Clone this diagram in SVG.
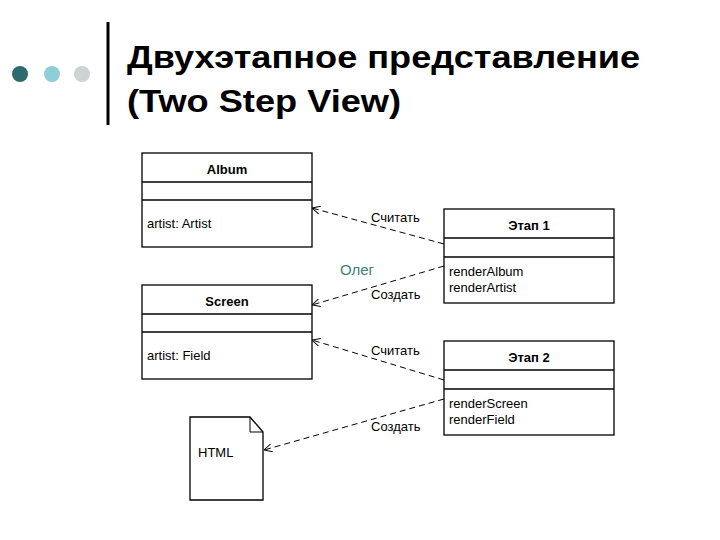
<svg xmlns="http://www.w3.org/2000/svg" width="720" height="540" viewBox="0 0 720 540">
<style>
.box{fill:#fff;stroke:#000;stroke-width:1.3}
.ln{stroke:#000;stroke-width:1.3}
.t{font-family:"Liberation Sans",Arial,sans-serif;font-size:13px;fill:#000}
.b{font-weight:bold;text-anchor:middle}
.c{fill:none;stroke:#000;stroke-width:1;stroke-dasharray:6,4;marker-end:url(#a)}
.title{font-family:"Liberation Sans",Arial,sans-serif;font-size:32px;font-weight:bold;fill:#000}
</style>
<defs>
<marker id="a" viewBox="0 0 10 10" refX="10" refY="5" markerWidth="8" markerHeight="8" orient="auto" markerUnits="userSpaceOnUse">
<path d="M0,0 L10,5 L0,10" fill="none" stroke="#000" stroke-width="1.2"/>
</marker>
</defs>
<rect width="720" height="540" fill="#fff"/>
<g id="header">
<circle cx="20" cy="74" r="8" fill="#2e6b6e"/>
<circle cx="52" cy="74" r="8" fill="#8ecfd6"/>
<circle cx="82" cy="74" r="8" fill="#cfd2d3"/>
<line x1="108" y1="22" x2="108" y2="125" stroke="#000" stroke-width="3"/>
<text class="title" x="127" y="68" textLength="513" lengthAdjust="spacingAndGlyphs">Двухэтапное представление</text>
<text class="title" x="127" y="112" textLength="274" lengthAdjust="spacingAndGlyphs">(Two Step View)</text>
</g>
<g id="album">
<rect class="box" x="142" y="153" width="170" height="94"/>
<line class="ln" x1="142" y1="182" x2="312" y2="182"/>
<line class="ln" x1="142" y1="200" x2="312" y2="200"/>
<text class="t b" x="227" y="174">Album</text>
<text class="t" x="147" y="228">artist: Artist</text>
</g>
<g id="screen">
<rect class="box" x="142" y="285" width="170" height="94"/>
<line class="ln" x1="142" y1="314" x2="312" y2="314"/>
<line class="ln" x1="142" y1="332" x2="312" y2="332"/>
<text class="t b" x="227" y="306">Screen</text>
<text class="t" x="147" y="360">artist: Field</text>
</g>
<g id="stage1">
<rect class="box" x="444" y="209" width="170" height="94"/>
<line class="ln" x1="444" y1="238" x2="614" y2="238"/>
<line class="ln" x1="444" y1="257" x2="614" y2="257"/>
<text class="t b" x="529" y="230">Этап 1</text>
<text class="t" x="449" y="276">renderAlbum</text>
<text class="t" x="449" y="292">renderArtist</text>
</g>
<g id="stage2">
<rect class="box" x="444" y="341" width="170" height="94"/>
<line class="ln" x1="444" y1="370" x2="614" y2="370"/>
<line class="ln" x1="444" y1="389" x2="614" y2="389"/>
<text class="t b" x="529" y="362">Этап 2</text>
<text class="t" x="449" y="408">renderScreen</text>
<text class="t" x="449" y="424">renderField</text>
</g>
<g id="html">
<path class="box" d="M190,417 H250 L263,432 V500 H190 Z"/>
<path d="M250,417 V432 H263" fill="none" stroke="#000" stroke-width="1"/>
<text class="t" x="198" y="457" font-size="11">HTML</text>
</g>
<g id="connectors">
<line class="c" x1="444" y1="244" x2="312" y2="208"/>
<line class="c" x1="444" y1="266" x2="312" y2="305"/>
<line class="c" x1="444" y1="380" x2="312" y2="340"/>
<line class="c" x1="444" y1="399" x2="264" y2="450"/>
<text class="t" x="371" y="222">Считать</text>
<text class="t" x="371" y="299">Создать</text>
<text class="t" x="371" y="355">Считать</text>
<text class="t" x="371" y="431">Создать</text>
</g>
<text x="340" y="275" font-family="Liberation Sans,Arial,sans-serif" font-size="15" fill="#3d7f78">Олег</text>
</svg>
